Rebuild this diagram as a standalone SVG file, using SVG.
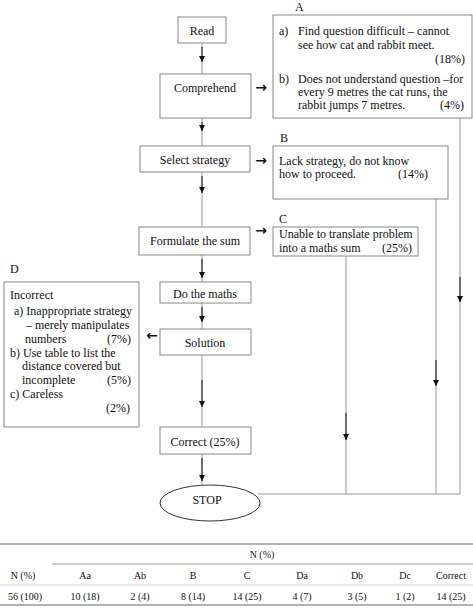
<svg xmlns="http://www.w3.org/2000/svg" width="473" height="608" viewBox="0 0 473 608">
<defs>
<marker id="ah" viewBox="0 0 10 10" refX="10" refY="5" markerWidth="6" markerHeight="6" orient="auto" markerUnits="userSpaceOnUse"><path d="M0,0 L10,5 L0,10 z" fill="#111"/></marker>
<style>
text{font-family:'Liberation Serif','Times New Roman',serif;font-size:12px;fill:#111}
.box{fill:#fff;stroke:#888;stroke-width:1}
.c{text-anchor:middle}
.r{text-anchor:end}
.ln{stroke:#999;stroke-width:1;fill:none}
.dk{stroke:#555;stroke-width:1.6;fill:none}
.t{font-size:10px}
.ar{font-family:'DejaVu Sans',sans-serif;font-size:14px;font-weight:bold}
.tl{stroke:#999;stroke-width:1.5}
</style>
</defs>
<rect width="473" height="608" fill="#fff"/>
<g id="connectors">
<line class="ln" x1="202" y1="43" x2="202" y2="74"/>
<line class="dk" x1="202" y1="47" x2="202" y2="62" marker-end="url(#ah)"/>
<line class="ln" x1="202" y1="118" x2="202" y2="146"/>
<line class="dk" x1="202" y1="122" x2="202" y2="131" marker-end="url(#ah)"/>
<line class="ln" x1="202" y1="172" x2="202" y2="227"/>
<line class="dk" x1="202" y1="176" x2="202" y2="193" marker-end="url(#ah)"/>
<line class="ln" x1="202" y1="255" x2="202" y2="282"/>
<line class="dk" x1="202" y1="259" x2="202" y2="278" marker-end="url(#ah)"/>
<line class="ln" x1="202" y1="303" x2="202" y2="329"/>
<line class="dk" x1="202" y1="307" x2="202" y2="322" marker-end="url(#ah)"/>
<line class="ln" x1="202" y1="355" x2="202" y2="427"/>
<line class="dk" x1="202" y1="380" x2="202" y2="407" marker-end="url(#ah)"/>
<line class="ln" x1="202" y1="454" x2="202" y2="485"/>
<line class="dk" x1="202" y1="458" x2="202" y2="481" marker-end="url(#ah)"/>
<line class="ln" x1="460" y1="118" x2="460" y2="494"/>
<line class="dk" x1="460" y1="277" x2="460" y2="302" marker-end="url(#ah)"/>
<line class="ln" x1="436" y1="199" x2="436" y2="494"/>
<line class="dk" x1="436" y1="360" x2="436" y2="386" marker-end="url(#ah)"/>
<line class="ln" x1="346" y1="256" x2="346" y2="494"/>
<line class="dk" x1="346" y1="413" x2="346" y2="440" marker-end="url(#ah)"/>
<line class="ln" x1="258" y1="494" x2="460" y2="494"/>
<text x="261" y="92" class="c ar">→</text>
<text x="261" y="165" class="c ar">→</text>
<text x="261" y="235" class="c ar">→</text>
<text x="152" y="340" class="c ar">←</text>
</g>
<g id="read"><rect class="box" x="178" y="17" width="48" height="26"/><text x="202" y="35" class="c">Read</text></g>
<g id="comprehend"><rect class="box" x="160" y="74" width="91" height="44"/><text x="205" y="92" class="c">Comprehend</text></g>
<g id="select"><rect class="box" x="140" y="146" width="110" height="26"/><text x="195" y="164" class="c">Select strategy</text></g>
<g id="formulate"><rect class="box" x="139" y="227" width="111" height="28"/><text x="195" y="245" class="c">Formulate the sum</text></g>
<g id="domaths"><rect class="box" x="160" y="282" width="91" height="21"/><text x="205" y="298" class="c">Do the maths</text></g>
<g id="solution"><rect class="box" x="160" y="329" width="91" height="26"/><text x="205" y="347" class="c">Solution</text></g>
<g id="correct"><rect class="box" x="160" y="427" width="91" height="27"/><text x="205" y="446" class="c">Correct (25%)</text></g>
<g id="stop"><ellipse cx="210" cy="503" rx="50" ry="18" fill="#fff" stroke="#333" stroke-width="1"/><text x="207" y="504" class="c">STOP</text></g>
<g id="boxA">
<text x="295" y="11">A</text>
<rect class="box" x="273" y="15" width="199" height="103"/>
<text x="279" y="35">a)</text><text x="298" y="35">Find question difficult – cannot</text>
<text x="298" y="49">see how cat and rabbit meet.</text>
<text x="465" y="63" class="r">(18%)</text>
<text x="279" y="83">b)</text><text x="298" y="83">Does not understand question –for</text>
<text x="298" y="96">every 9 metres the cat runs, the</text>
<text x="298" y="109">rabbit jumps 7 metres.</text><text x="464" y="109" class="r">(4%)</text>
</g>
<g id="boxB">
<text x="280" y="142">B</text>
<rect class="box" x="273" y="146" width="175" height="53"/>
<text x="279" y="165">Lack strategy, do not know</text>
<text x="279" y="178">how to proceed.</text><text x="428" y="178" class="r">(14%)</text>
</g>
<g id="boxC">
<text x="279" y="223">C</text>
<rect class="box" x="273" y="227" width="145" height="29"/>
<text x="279" y="238">Unable to translate problem</text>
<text x="279" y="252">into a maths sum</text><text x="412" y="252" class="r">(25%)</text>
</g>
<g id="boxD">
<text x="10" y="273">D</text>
<rect class="box" x="4" y="282" width="135" height="145"/>
<text x="10" y="299">Incorrect</text>
<text x="14" y="315">a) Inappropriate strategy</text>
<text x="26" y="329">– merely manipulates</text>
<text x="25" y="343">numbers</text><text x="131" y="343" class="r">(7%)</text>
<text x="10" y="357">b) Use table to list the</text>
<text x="22" y="370">distance covered but</text>
<text x="22" y="384">incomplete</text><text x="131" y="384" class="r">(5%)</text>
<text x="10" y="398">c) Careless</text>
<text x="130" y="412" class="r">(2%)</text>
</g>
<g id="table">
<line class="tl" x1="0" y1="544" x2="473" y2="544"/>
<line class="tl" x1="52" y1="564" x2="473" y2="564" style="stroke-width:1"/>
<line class="tl" x1="0" y1="585" x2="473" y2="585" style="stroke-width:0.8;stroke:#ccc"/>
<line class="tl" x1="0" y1="605" x2="473" y2="605"/>
<text x="262" y="558" class="c t">N (%)</text>
<text x="23" y="579" class="c t">N (%)</text>
<text x="85" y="579" class="c t">Aa</text>
<text x="140" y="579" class="c t">Ab</text>
<text x="193" y="579" class="c t">B</text>
<text x="247" y="579" class="c t">C</text>
<text x="302" y="579" class="c t">Da</text>
<text x="357" y="579" class="c t">Db</text>
<text x="405" y="579" class="c t">Dc</text>
<text x="451" y="579" class="c t">Correct</text>
<text x="25" y="600" class="c t">56 (100)</text>
<text x="85" y="600" class="c t">10 (18)</text>
<text x="140" y="600" class="c t">2 (4)</text>
<text x="193" y="600" class="c t">8 (14)</text>
<text x="247" y="600" class="c t">14 (25)</text>
<text x="302" y="600" class="c t">4 (7)</text>
<text x="357" y="600" class="c t">3 (5)</text>
<text x="405" y="600" class="c t">1 (2)</text>
<text x="451" y="600" class="c t">14 (25)</text>
</g>
</svg>
